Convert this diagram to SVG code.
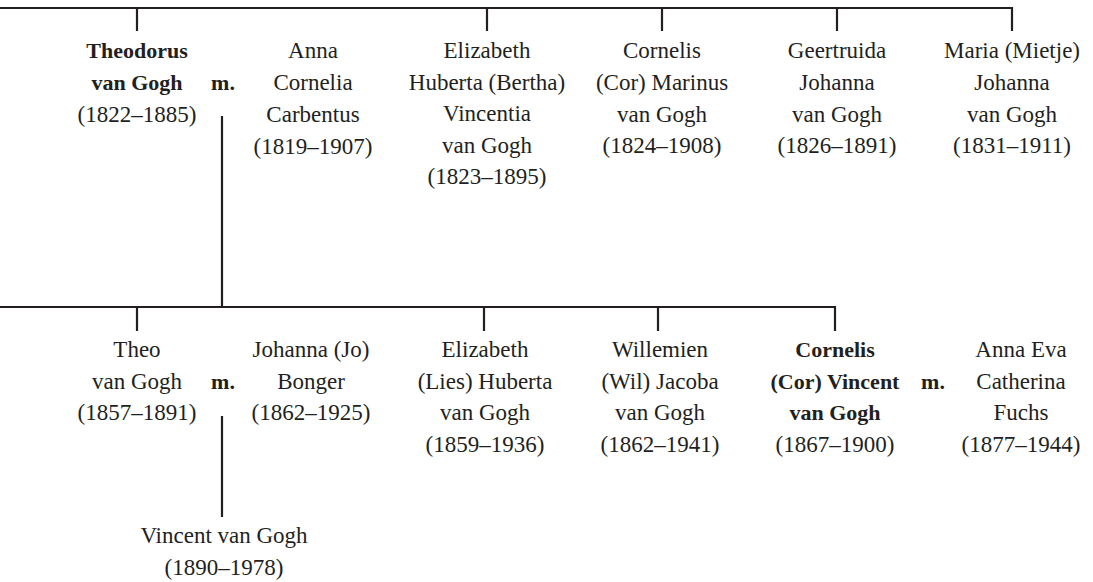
<svg xmlns="http://www.w3.org/2000/svg" width="1093" height="582" viewBox="0 0 1093 582">
<style>
text{font-family:"Liberation Serif","Times New Roman",serif;font-size:23px;fill:#231f20;text-anchor:middle}
.b{font-weight:bold;font-size:22px}
.l{stroke:#231f20;stroke-width:2.2;fill:none}
</style>
<rect width="1093" height="582" fill="#fff"/>
<g id="connectors">
<path class="l" d="M0 8H1012M137 8V31M487 8V31M662 8V31M837 8V31M1012 7V31"/>
<path class="l" d="M222 116V307"/>
<path class="l" d="M0 307H835M137 307V331M484 307V331M658 307V331M835 306V331"/>
<path class="l" d="M222 416V517"/>
</g>
<g id="theodorus"><text class="b" x="137" y="58">Theodorus</text><text class="b" x="137" y="90">van Gogh</text><text x="137" y="122">(1822–1885)</text></g>
<g id="m1"><text class="b" x="223" y="90">m.</text></g>
<g id="anna"><text x="313" y="58">Anna</text><text x="313" y="90">Cornelia</text><text x="313" y="122">Carbentus</text><text x="313" y="154">(1819–1907)</text></g>
<g id="elizabeth1"><text x="487" y="58">Elizabeth</text><text x="487" y="89.5">Huberta (Bertha)</text><text x="487" y="121">Vincentia</text><text x="487" y="152.5">van Gogh</text><text x="487" y="184">(1823–1895)</text></g>
<g id="cornelis1"><text x="662" y="58">Cornelis</text><text x="662" y="90">(Cor) Marinus</text><text x="662" y="121.5">van Gogh</text><text x="662" y="153">(1824–1908)</text></g>
<g id="geertruida"><text x="837" y="58">Geertruida</text><text x="837" y="90">Johanna</text><text x="837" y="121.5">van Gogh</text><text x="837" y="153">(1826–1891)</text></g>
<g id="maria"><text x="1012" y="58">Maria (Mietje)</text><text x="1012" y="90">Johanna</text><text x="1012" y="121.5">van Gogh</text><text x="1012" y="153">(1831–1911)</text></g>
<g id="theo"><text x="137" y="357">Theo</text><text x="137" y="388.5">van Gogh</text><text x="137" y="420">(1857–1891)</text></g>
<g id="m2"><text class="b" x="223" y="388.5">m.</text></g>
<g id="johanna"><text x="311" y="357">Johanna (Jo)</text><text x="311" y="388.5">Bonger</text><text x="311" y="420">(1862–1925)</text></g>
<g id="elizabeth2"><text x="485" y="357">Elizabeth</text><text x="485" y="388.5">(Lies) Huberta</text><text x="485" y="420">van Gogh</text><text x="485" y="451.5">(1859–1936)</text></g>
<g id="willemien"><text x="660" y="357">Willemien</text><text x="660" y="388.5">(Wil) Jacoba</text><text x="660" y="420">van Gogh</text><text x="660" y="451.5">(1862–1941)</text></g>
<g id="cornelis2"><text class="b" x="835" y="357">Cornelis</text><text class="b" x="835" y="388.5">(Cor) Vincent</text><text class="b" x="835" y="420">van Gogh</text><text x="835" y="451.5">(1867–1900)</text></g>
<g id="m3"><text class="b" x="933" y="388.5">m.</text></g>
<g id="annaeva"><text x="1021" y="357">Anna Eva</text><text x="1021" y="388.5">Catherina</text><text x="1021" y="420">Fuchs</text><text x="1021" y="451.5">(1877–1944)</text></g>
<g id="vincent"><text x="224" y="543">Vincent van Gogh</text><text x="224" y="575">(1890–1978)</text></g>
</svg>
